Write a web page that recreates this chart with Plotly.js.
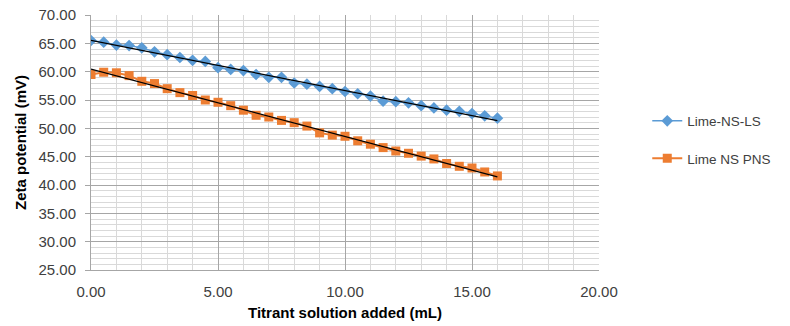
<!DOCTYPE html>
<html>
<head>
<meta charset="utf-8">
<script src="https://cdn.plot.ly/plotly-3.0.1.min.js"></script>
<style>html,body{margin:0;padding:0;background:#fff;}#chart{width:790px;height:326px;}</style>
</head>
<body>
<div id="chart"></div>
<script>
const titrant = [0,0.5,1,1.5,2,2.5,3,3.5,4,4.5,5,5.5,6,6.5,7,7.5,8,8.5,9,9.5,10,10.5,11,11.5,12,12.5,13,13.5,14,14.5,15,15.5,16];
const limeNSLS = [65.5,65.2,64.7,64.6,64.2,63.5,63.0,62.5,62.0,61.8,60.7,60.4,60.2,59.5,59.0,59.0,58.0,57.8,57.4,57.0,56.5,56.1,55.7,54.8,54.7,54.5,54.0,53.6,53.2,53.0,52.6,52.2,51.8];
const limeNSPNS = [59.5,59.9,59.8,59.3,58.3,57.9,57.0,56.3,55.8,55.0,54.6,54.0,53.2,52.3,52.0,51.4,51.0,50.4,49.2,48.8,48.6,47.8,47.2,46.6,46.0,45.6,45.1,44.6,43.8,43.3,43.0,42.3,41.6];
const seriesNames = ['Lime-NS-LS','Lime NS PNS'];
const xTickVals = [0,5,10,15,20];
const yTickVals = [25,30,35,40,45,50,55,60,65,70];

function fit(x, y) {
  const n = x.length;
  let sx=0, sy=0, sxx=0, sxy=0;
  for (let i=0;i<n;i++){sx+=x[i];sy+=y[i];sxx+=x[i]*x[i];sxy+=x[i]*y[i];}
  const b=(n*sxy-sx*sy)/(n*sxx-sx*sx);
  const a=(sy-b*sx)/n;
  const x0=x[0], x1=x[n-1];
  return {x:[x0,x1], y:[a+b*x0, a+b*x1]};
}
const f1 = fit(titrant, limeNSLS);
const f2 = fit(titrant, limeNSPNS);

const traces = [
  {x:titrant, y:limeNSLS, name:seriesNames[0], mode:'lines+markers', legendgroup:'a',
   line:{color:'#5b9bd5', width:1.5}, marker:{symbol:'diamond', size:9, color:'#5b9bd5'}},
  {x:titrant, y:limeNSPNS, name:seriesNames[1], mode:'lines+markers', legendgroup:'b',
   line:{color:'#ed7d31', width:2}, marker:{symbol:'square', size:9, color:'#ed7d31'}},
  {x:f1.x, y:f1.y, mode:'lines', showlegend:false, hoverinfo:'skip', line:{color:'#000', width:1.3}},
  {x:f2.x, y:f2.y, mode:'lines', showlegend:false, hoverinfo:'skip', line:{color:'#000', width:1.3}}
];

const fontFam = 'Liberation Sans, Arial, sans-serif';
const layout = {
  width:790, height:326,
  margin:{l:91, r:191, t:15, b:56, autoexpand:false},
  paper_bgcolor:'#fff', plot_bgcolor:'#fff',
  showlegend:true,
  legend:{x:1.095, y:0.645, xanchor:'left', yanchor:'top', traceorder:'grouped', tracegroupgap:17,
          font:{family:fontFam, size:13.5, color:'#404040'}, bgcolor:'rgba(0,0,0,0)'},
  xaxis:{range:[0,20], tickvals:xTickVals, ticktext:xTickVals.map(v=>v.toFixed(2)),
         showgrid:true, gridcolor:'#a6a6a6', gridwidth:1,
         minor:{dtick:1, showgrid:true, gridcolor:'#d9d9d9', gridwidth:1},
         showline:true, linecolor:'#a6a6a6', linewidth:1, zeroline:false,
         ticks:'', ticklen:0, ticklabelstandoff:8,
         tickfont:{family:fontFam, size:15, color:'#404040'},
         title:{text:'<b>Titrant solution added (mL)</b>', font:{family:fontFam, size:15, color:'#000'}, standoff:8}},
  yaxis:{range:[25,70], tickvals:yTickVals, ticktext:yTickVals.map(v=>v.toFixed(2)),
         showgrid:true, gridcolor:'#a6a6a6', gridwidth:1,
         minor:{dtick:1, showgrid:true, gridcolor:'#d9d9d9', gridwidth:1},
         showline:true, linecolor:'#a6a6a6', linewidth:1, zeroline:false,
         ticks:'outside', ticklen:5, tickcolor:'#a6a6a6', ticklabelstandoff:6,
         tickfont:{family:fontFam, size:15, color:'#404040'},
         title:{text:'<b>Zeta potential (mV)</b>', font:{family:fontFam, size:15, color:'#000'}, standoff:8}}
};
Plotly.newPlot('chart', traces, layout, {displayModeBar:false, staticPlot:true});
</script>
</body>
</html>
